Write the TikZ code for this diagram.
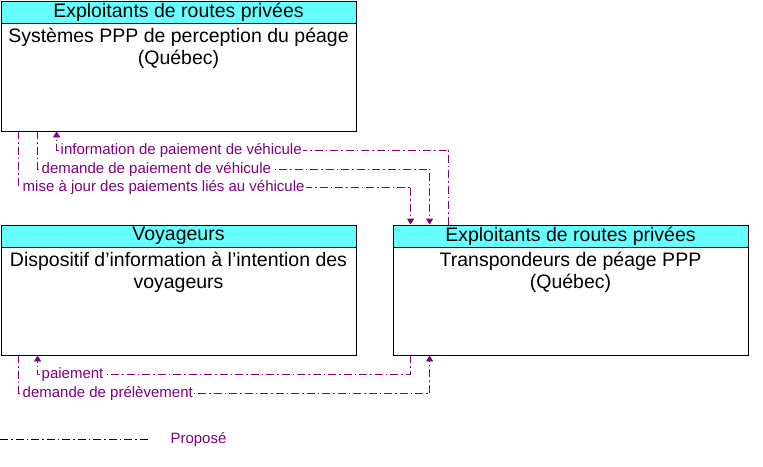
\documentclass[tikz,border=0pt]{standalone}
\usepackage{fontspec}
\setmainfont{Liberation Sans}
\usetikzlibrary{arrows.meta}
\definecolor{flowcol}{RGB}{128,0,128}
\definecolor{headcol}{RGB}{102,255,255}
\tikzset{
    box/.style={draw, thick, minimum width=355pt, minimum height=130pt, inner sep=0pt},
    header/.style={draw, thick, fill=headcol, minimum width=355pt, minimum height=22pt, inner sep=0pt, anchor=north, font=\fontsize{19.5}{22}\selectfont},
    body/.style={anchor=north, align=center, inner sep=0pt, font=\fontsize{19.5}{22}\selectfont},
    flow/.style={draw=flowcol, line width=0.8pt, dash pattern=on 8pt off 3pt on 1.5pt off 3pt},
    tip/.style={-{Triangle[width=7pt,length=6pt]}},
    flowlabel/.style={anchor=west, fill=white, inner sep=1.5pt, text=flowcol, font=\fontsize{15}{17}\selectfont}
}
\begin{document}
\begin{tikzpicture}[x=1pt, y=-1pt]
    \useasboundingbox (0,0) rectangle (763,466);

    % boxes
    \node[box] (sys) at (178.5,66) {};
    \node[header] (sysh) at (sys.north) {Exploitants de routes privées};
    \node[body] (sysb) at ([yshift=-5pt]sysh.south) {Systèmes PPP de perception du péage\\(Québec)};

    \node[box] (voy) at (178.5,290) {};
    \node[header] (voyh) at (voy.north) {Voyageurs};
    \node[body] (voyb) at ([yshift=-5pt]voyh.south) {Dispositif d’information à l’intention des\\voyageurs};

    \node[box] (tra) at (570.5,290) {};
    \node[header] (trah) at (tra.north) {Exploitants de routes privées};
    \node[body] (trab) at ([yshift=-5pt]trah.south) {Transpondeurs de péage PPP\\(Québec)};

    % flows
    \begin{scope}[every path/.style={flow}]
        \path[tip] ([xshift=56pt]tra.north west) |- (449,150) -| ([xshift=56pt]sys.south west);
        \path[tip] ([xshift=37pt]sys.south west) |- (430,169) -| ([xshift=37pt]tra.north west);
        \path[tip] ([xshift=18pt]sys.south west) |- (411,187) -| ([xshift=18pt]tra.north west);
        \path[tip] ([xshift=18pt]tra.south west) |- (38,374) -| ([xshift=37pt]voy.south west);
        \path[tip] ([xshift=18pt]voy.south west) |- (430,393) -| ([xshift=37pt]tra.south west);
    \end{scope}
    \node[flowlabel] (l1) at (59,150.5) {information de paiement de véhicule};
    \node[flowlabel] (l2) at (40,169.5) {demande de paiement de véhicule};
    \node[flowlabel] (l3) at (21,187.5) {mise à jour des paiements liés au véhicule};
    \node[flowlabel] (l4) at (40,374.5) {paiement};
    \node[flowlabel] (l5) at (21,393.5) {demande de prélèvement};

    % legend
    \coordinate (lga) at (0,439);
    \coordinate (lgb) at (150,439);
    \draw[line width=0.8pt, dash pattern=on 8pt off 3pt on 1.5pt off 3pt] (lga) -- (lgb);
    \node[anchor=west, text=flowcol, font=\fontsize{15}{17}\selectfont] (lgt) at (167,439.5) {Proposé};
\end{tikzpicture}
\end{document}
